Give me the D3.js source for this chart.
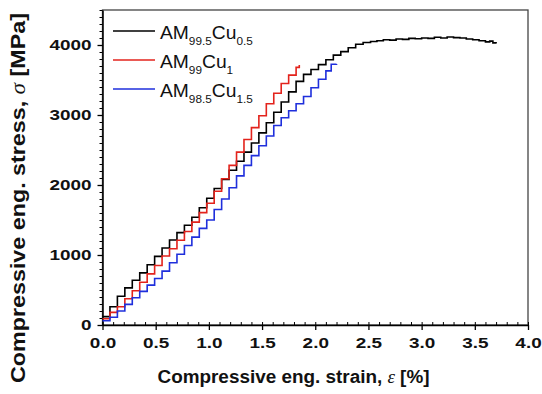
<!DOCTYPE html>
<html>
<head>
<meta charset="utf-8">
<script src="https://cdn.jsdelivr.net/npm/d3@7"></script>
<style>
  body { margin: 0; background: #fff; }
  svg { display: block; font-family: "Liberation Sans", Arial, sans-serif; }
</style>
</head>
<body>
<div id="chart"></div>
<script>
// AM99.5Cu0.5 (black)
const strainA = [0.00,0.07,0.14,0.21,0.28,0.35,0.42,0.49,0.56,0.63,0.70,0.77,0.84,0.91,0.98,1.05,1.12,1.19,1.26,1.33,1.40,1.47,1.54,1.61,1.68,1.75,1.82,1.89,1.96,2.03,2.10,2.17,2.24,2.31,2.38,2.45,2.52,2.58,2.64,2.70,2.76,2.82,2.88,2.94,3.00,3.06,3.12,3.18,3.24,3.30,3.36,3.42,3.48,3.54,3.60,3.64,3.67,3.70];
const stressA = [120,260,410,530,640,745,860,980,1100,1215,1320,1425,1540,1675,1810,1950,2080,2210,2340,2470,2600,2745,2890,3040,3185,3330,3480,3580,3650,3720,3790,3855,3905,3960,4010,4035,4050,4060,4075,4070,4085,4080,4095,4090,4100,4095,4110,4100,4115,4105,4100,4085,4075,4060,4045,4055,4030,4020];
// AM99Cu1 (red)
const strainB = [0.00,0.07,0.14,0.21,0.28,0.35,0.42,0.49,0.56,0.63,0.70,0.77,0.84,0.91,0.98,1.05,1.12,1.19,1.26,1.33,1.40,1.47,1.54,1.61,1.68,1.75,1.82,1.85];
const stressB = [90,180,260,375,490,610,730,850,985,1090,1210,1335,1470,1605,1740,1910,2090,2280,2470,2650,2820,2990,3160,3310,3450,3570,3680,3715];
// AM98.5Cu1.5 (blue)
const strainC = [0.00,0.07,0.14,0.21,0.28,0.35,0.42,0.49,0.56,0.63,0.70,0.77,0.84,0.91,0.98,1.05,1.12,1.19,1.26,1.33,1.40,1.47,1.54,1.61,1.68,1.75,1.82,1.89,1.96,2.03,2.10,2.15,2.20];
const stressC = [60,110,200,295,390,480,570,665,770,890,1010,1135,1255,1380,1500,1650,1800,1960,2130,2280,2420,2560,2700,2850,2960,3060,3160,3265,3390,3510,3630,3725,3730];

const xTicks = [0, 0.5, 1.0, 1.5, 2.0, 2.5, 3.0, 3.5, 4.0];
const yTicks = [0, 1000, 2000, 3000, 4000];
const legendNames = [["AM", "99.5", "Cu", "0.5"], ["AM", "99", "Cu", "1"], ["AM", "98.5", "Cu", "1.5"]];
const colors = ["#000000", "#e3231c", "#1f2fdc"];

const width = 542, height = 394;
const margin = { top: 10, right: 14, bottom: 69, left: 102.5 };

const svg = d3.select("#chart").append("svg")
  .attr("width", width)
  .attr("height", height);

const x = d3.scaleLinear().domain([0, 4]).range([margin.left, width - margin.right]);
const y = d3.scaleLinear().domain([0, 4500]).range([height - margin.bottom, margin.top]);

// frame (top / right)
svg.append("rect")
  .attr("x", x(0)).attr("y", y(4500))
  .attr("width", x(4) - x(0)).attr("height", y(0) - y(4500))
  .attr("fill", "none").attr("stroke", "#444").attr("stroke-width", 1.3);

// stretch helper, the source labels look wider than plain Arial
function stretch(sel, k) {
  sel.each(function () {
    const w = this.getComputedTextLength();
    d3.select(this).attr("textLength", w * k).attr("lengthAdjust", "spacingAndGlyphs");
  });
}

// x axis: minor (inward) + major (crossing)
const xMinor = d3.range(0, 41).map(d => d / 10);
svg.append("g")
  .attr("transform", `translate(0,${y(0)})`)
  .call(d3.axisBottom(x).tickValues(xMinor).tickSize(-3).tickFormat(""))
  .call(g => g.select(".domain").remove());
const gx = svg.append("g")
  .attr("transform", `translate(0,${y(0)})`)
  .call(d3.axisBottom(x).tickValues(xTicks).tickSizeInner(5).tickSizeOuter(0).tickPadding(7).tickFormat(d3.format(".1f")));
gx.select(".domain").attr("stroke-width", 1.5);
gx.selectAll(".tick line").attr("stroke-width", 1.3);
gx.selectAll("text").attr("font-size", 15.5).attr("font-weight", "bold").attr("fill", "#111")
  .call(stretch, 1.22);

// y axis
const yMinor = d3.range(0, 46).map(d => d * 100);
svg.append("g")
  .attr("transform", `translate(${x(0)},0)`)
  .call(d3.axisLeft(y).tickValues(yMinor).tickSize(3).tickFormat(""))
  .call(g => g.select(".domain").remove());
const gy = svg.append("g")
  .attr("transform", `translate(${x(0)},0)`)
  .call(d3.axisLeft(y).tickValues(yTicks).tickSizeInner(5).tickSizeOuter(0).tickPadding(6).tickFormat(d3.format("d")));
gy.select(".domain").attr("stroke-width", 1.5);
gy.selectAll(".tick line").attr("stroke-width", 1.3);
gy.selectAll("text").attr("font-size", 15.5).attr("font-weight", "bold").attr("fill", "#111")
  .call(stretch, 1.22);

// curves
const series = [
  strainA.map((s, i) => [s, stressA[i]]),
  strainB.map((s, i) => [s, stressB[i]]),
  strainC.map((s, i) => [s, stressC[i]])
];
const line = d3.line()
  .x(d => x(d[0]))
  .y(d => y(d[1]))
  .curve(d3.curveStepAfter);

svg.selectAll(".curve")
  .data(series)
  .enter()
  .append("path")
  .attr("class", "curve")
  .attr("d", line)
  .attr("fill", "none")
  .attr("stroke", (d, i) => colors[i])
  .attr("stroke-width", 1.6);

// legend
const legY = [31, 60, 89];
const legend = svg.selectAll(".leg")
  .data(legendNames)
  .enter()
  .append("g")
  .attr("class", "leg")
  .attr("transform", (d, i) => `translate(0,${legY[i]})`);
legend.append("line")
  .attr("x1", 113).attr("x2", 155)
  .attr("stroke", (d, i) => colors[i])
  .attr("stroke-width", 1.5);
const lt = legend.append("text")
  .attr("x", 160).attr("y", 7.5)
  .attr("font-size", 18).attr("fill", "#111");
lt.each(function (d) {
  const t = d3.select(this);
  t.append("tspan").text(d[0]);
  t.append("tspan").attr("font-size", 11).attr("dy", 6).text(d[1]);
  t.append("tspan").attr("dy", -6).text(d[2]);
  t.append("tspan").attr("font-size", 11).attr("dy", 6).text(d[3]);
});
lt.call(stretch, 1.07);

// axis titles
const xt = svg.append("text")
  .attr("x", 293.5).attr("y", 383)
  .attr("text-anchor", "middle")
  .attr("font-size", 18).attr("font-weight", "bold").attr("fill", "#111");
xt.append("tspan").text("Compressive eng. strain, ");
xt.append("tspan").attr("font-family", "Liberation Serif").attr("font-style", "italic").attr("font-weight", "normal").text("ε");
xt.append("tspan").text(" [%]");
xt.attr("textLength", 272).attr("lengthAdjust", "spacingAndGlyphs");

const yt = svg.append("text")
  .attr("transform", "translate(25,198) rotate(-90)")
  .attr("text-anchor", "middle")
  .attr("font-size", 20).attr("font-weight", "bold").attr("fill", "#111");
yt.append("tspan").text("Compressive eng. stress, ");
yt.append("tspan").attr("font-family", "Liberation Serif").attr("font-style", "italic").attr("font-weight", "normal").text("σ");
yt.append("tspan").text(" [MPa]");
yt.attr("textLength", 370).attr("lengthAdjust", "spacingAndGlyphs");
</script>
</body>
</html>
